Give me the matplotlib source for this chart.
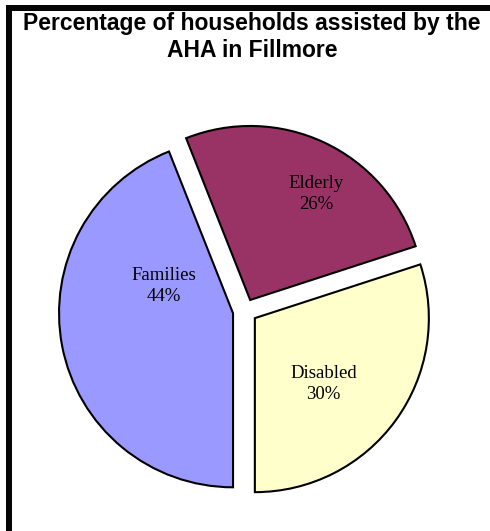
import matplotlib.pyplot as plt
from matplotlib.patches import Rectangle
import numpy as np

# Data
categories = ["Families", "Elderly", "Disabled"]
shares = [44, 26, 30]
colors = ["#9999FF", "#993366", "#FFFFCC"]
# label offsets (in radius units) from the pie centre
label_x = [-0.465, 0.41, 0.45]
label_y = [0.145, 0.67, -0.42]

W, H = 490, 531
fig = plt.figure(figsize=(W / 100, H / 100), dpi=100)
ax = fig.add_axes([0, 0, 1, 1])

r_px = 174.0
ax.pie(shares, colors=colors, startangle=-90, counterclock=False,
       explode=[0.07, 0.07, 0.07], radius=1.0,
       wedgeprops=dict(edgecolor="black", linewidth=1.5))

for name, val, lx, ly in zip(categories, shares, label_x, label_y):
    ax.text(lx, ly, f"{name}\n{val}%", ha="center", va="center",
            family="Liberation Serif", fontsize=13.5, linespacing=1.3)

ax.set_xlim(-245 / r_px, 245 / r_px)
ax.set_ylim(-220 / r_px, 311 / r_px)
ax.set_aspect("auto")
ax.axis("off")

fig.text(0.5 + 7 / W, 1 - 37 / H, "Percentage of households assisted by the\nAHA in Fillmore",
         ha="center", va="center", family="Liberation Sans", fontweight="bold",
         fontsize=16.5, linespacing=1.22)

# outer frame (only top and left edges fall inside the picture): filled bars
fig.add_artist(Rectangle((6 / W, 0), 6 / W, 1 - 5 / H, transform=fig.transFigure,
                         facecolor="#050505", edgecolor="none", zorder=5))
fig.add_artist(Rectangle((6 / W, 1 - 11 / H), 1, 6 / H, transform=fig.transFigure,
                         facecolor="#050505", edgecolor="none", zorder=5))

fig.savefig("out.png", dpi=100)
